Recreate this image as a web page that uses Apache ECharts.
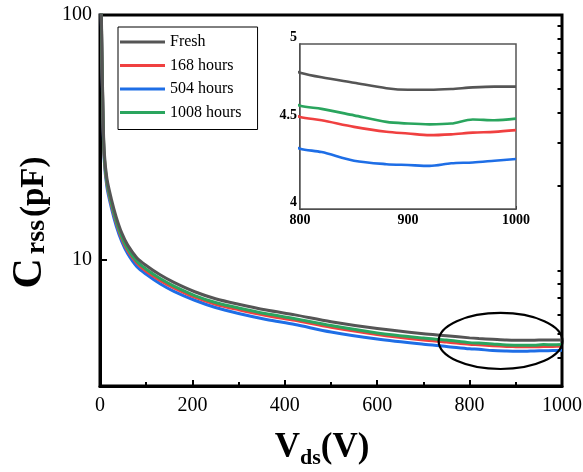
<!DOCTYPE html>
<html>
<head>
<meta charset="utf-8">
<script src="https://cdn.jsdelivr.net/npm/echarts@6/dist/echarts.min.js"></script>
<style>
html,body{margin:0;padding:0;background:#fff}
#c{width:583px;height:472px}
</style>
</head>
<body>
<div id="c"></div>
<script>
// Drain-source voltage (V)
const voltage = [1, 3, 6, 9, 15, 25, 35, 47, 60, 80, 100, 130, 160, 205, 250, 300, 360, 422, 500, 600, 700, 750,
  800, 820, 850, 880, 900, 920, 940, 960, 980, 1000];
// Reverse transfer capacitance Crss (pF) after each stress duration
const fresh = [200, 100, 45, 28, 21.5, 17.6, 15, 12.9, 11.5, 10.2, 9.5, 8.7, 8.1, 7.42, 6.95, 6.6, 6.25, 5.97, 5.6, 5.25, 5.0, 4.91,
  4.81, 4.78, 4.745, 4.71, 4.70, 4.70, 4.705, 4.715, 4.72, 4.72];
const h168 = [190, 95, 42.7, 26.6, 20.4, 16.7, 14.25, 12.25, 10.9, 9.7, 9.0, 8.26, 7.7, 7.05, 6.6, 6.27, 5.94, 5.67, 5.32, 4.97, 4.72, 4.63,
  4.53, 4.51, 4.47, 4.44, 4.43, 4.42, 4.425, 4.435, 4.44, 4.45];
const h504 = [184, 92, 41.4, 25.8, 19.8, 16.2, 13.8, 11.9, 10.6, 9.38, 8.74, 8.0, 7.45, 6.85, 6.4, 6.05, 5.72, 5.45, 5.08, 4.76, 4.53, 4.44,
  4.34, 4.32, 4.27, 4.25, 4.245, 4.24, 4.255, 4.26, 4.27, 4.28];
const h1008 = [193, 96.5, 43.4, 27, 20.7, 17.0, 14.5, 12.45, 11.1, 9.85, 9.17, 8.4, 7.82, 7.16, 6.71, 6.37, 6.03, 5.76, 5.40, 5.04, 4.80, 4.71,
  4.60, 4.58, 4.54, 4.50, 4.49, 4.485, 4.49, 4.515, 4.51, 4.52];

const seriesNames = ['Fresh', '168 hours', '504 hours', '1008 hours'];
const seriesColors = ['#555555', '#f04040', '#1e6ee6', '#2aa55e'];
const seriesData = [fresh, h168, h504, h1008];

// Tick positions
const mainYLabels = [10, 100];
const mainYMinor = [4, 5, 6, 7, 8, 9, 20, 30, 40, 50, 60, 70, 80, 90];
const insetYLabels = [4, 4.5, 5];
const insetYMinor = [4.1, 4.2, 4.3, 4.4, 4.6, 4.7, 4.8, 4.9];

// Highlight ellipse around the high-voltage region (data units)
const ellipseV = [733, 1001];
const ellipseC = [3.59, 6.08];

const serif = 'Liberation Serif, Times New Roman, serif';

function pairs(arr) {
  return voltage.map((v, i) => [v, arr[i]]);
}
const plainNumber = v => String(v);

const drawOrder = [2, 1, 3, 0];
const series = [];
[0, 1].forEach(g => {
  drawOrder.forEach(k => {
    series.push({
      name: seriesNames[k],
      type: 'line',
      xAxisIndex: g,
      yAxisIndex: g === 0 ? 0 : 2,
      data: pairs(seriesData[k]),
      symbol: 'none',
      smooth: 0.3,
      clip: true,
      lineStyle: { color: seriesColors[k], width: g === 0 ? 3 : 2.6 },
      itemStyle: { color: seriesColors[k] },
      z: g === 0 ? 2 : 12
    });
  });
});

const chart = echarts.init(document.getElementById('c'), null, { renderer: 'canvas' });

chart.setOption({
  animation: false,
  backgroundColor: '#fff',
  legend: {
    data: seriesNames,
    orient: 'vertical',
    left: 118,
    top: 27,
    icon: 'rect',
    itemWidth: 45,
    itemHeight: 3,
    itemGap: 7.5,
    padding: [7, 16, 9, 2],
    borderColor: '#000',
    borderWidth: 1,
    backgroundColor: '#fff',
    textStyle: { fontFamily: serif, fontSize: 16, color: '#000' },
    z: 20
  },
  grid: [
    { left: 100, top: 15, width: 462, height: 371, show: true, borderColor: '#000', borderWidth: 3,
      containLabel: false, outerBoundsMode: 'none' },
    { left: 300, top: 44, width: 216, height: 165, show: true, borderColor: '#555', borderWidth: 1.5,
      backgroundColor: '#fff', z: 10, containLabel: false, outerBoundsMode: 'none' }
  ],
  xAxis: [
    {
      gridIndex: 0, type: 'value', min: 0, max: 1000, interval: 200,
      axisLine: { lineStyle: { color: '#000', width: 3 } },
      axisTick: { inside: true, length: 6, lineStyle: { width: 2, color: '#000' } },
      minorTick: { show: true, splitNumber: 2, length: 4, lineStyle: { width: 2, color: '#000' } },
      splitLine: { show: false },
      axisLabel: { fontFamily: serif, fontSize: 20, color: '#000', margin: 10, formatter: plainNumber },
      name: '{b|V}{s|ds}{b|(V)}',
      nameLocation: 'middle',
      nameGap: 44,
      nameTextStyle: {
        padding: [0, 18, 0, 0],
        rich: {
          b: { fontFamily: serif, fontSize: 35, fontWeight: 'bold', color: '#000', lineHeight: 38, verticalAlign: 'top' },
          s: { fontFamily: serif, fontSize: 22, fontWeight: 'bold', color: '#000', lineHeight: 20, padding: [26, 0, 0, 0], verticalAlign: 'bottom' }
        }
      }
    },
    {
      gridIndex: 1, type: 'value', min: 800, max: 1000, interval: 100,
      axisLine: { lineStyle: { color: '#000', width: 1.5 } },
      axisTick: { inside: true, length: 3, lineStyle: { width: 1, color: '#000' } },
      minorTick: { show: true, splitNumber: 2, length: 2, lineStyle: { width: 1, color: '#000' } },
      splitLine: { show: false },
      axisLabel: { fontFamily: serif, fontSize: 14, fontWeight: 'bold', color: '#000', margin: 4, formatter: plainNumber }
    }
  ],
  yAxis: [
    {
      gridIndex: 0, type: 'log', logBase: 10, min: 3.06, max: 100,
      axisLine: { lineStyle: { color: '#000', width: 3 } },
      axisTick: { inside: true, length: 7, customValues: mainYLabels, lineStyle: { width: 2, color: '#000' } },
      splitLine: { show: false },
      minorTick: { show: false },
      axisLabel: { customValues: mainYLabels, fontFamily: serif, fontSize: 20, color: '#000', margin: 8 },
      name: '{c|C}{s|rss}{b|(pF)}',
      nameLocation: 'middle',
      nameGap: 48,
      nameTextStyle: {
        padding: [0, 44, 0, 0],
        rich: {
          c: { fontFamily: serif, fontSize: 42, fontWeight: 'bold', color: '#000', lineHeight: 44, verticalAlign: 'bottom', padding: [0, 4, 0, 0] },
          s: { fontFamily: serif, fontSize: 28, fontWeight: 'bold', color: '#000', lineHeight: 30, verticalAlign: 'bottom', padding: [0, 3, 0, 0] },
          b: { fontFamily: serif, fontSize: 33, fontWeight: 'bold', color: '#000', lineHeight: 36, verticalAlign: 'bottom' }
        }
      }
    },
    {
      gridIndex: 0, type: 'log', logBase: 10, min: 3.06, max: 100,
      axisLine: { show: false },
      axisTick: { inside: true, length: 4.5, customValues: mainYMinor, lineStyle: { width: 2, color: '#000' } },
      splitLine: { show: false },
      axisLabel: { show: false }
    },
    {
      gridIndex: 1, type: 'log', logBase: 10, min: 4, max: 5,
      axisLine: { lineStyle: { color: '#000', width: 1.5 } },
      axisTick: { inside: true, length: 3, customValues: insetYLabels, lineStyle: { width: 1, color: '#000' } },
      splitLine: { show: false },
      axisLabel: { customValues: insetYLabels, fontFamily: serif, fontSize: 14, fontWeight: 'bold', color: '#000', margin: 3, verticalAlign: 'bottom' }
    },
    {
      gridIndex: 1, type: 'log', logBase: 10, min: 4, max: 5,
      axisLine: { show: false },
      axisTick: { inside: true, length: 2, customValues: insetYMinor, lineStyle: { width: 1, color: '#000' } },
      splitLine: { show: false },
      axisLabel: { show: false }
    }
  ],
  series: series
});

// Ellipse marking the high-voltage region enlarged in the inset
const pA = chart.convertToPixel({ gridIndex: 0 }, [ellipseV[0], ellipseC[1]]);
const pB = chart.convertToPixel({ gridIndex: 0 }, [ellipseV[1], ellipseC[0]]);
chart.setOption({
  graphic: [{
    type: 'ellipse',
    shape: { cx: (pA[0] + pB[0]) / 2, cy: (pA[1] + pB[1]) / 2, rx: Math.abs(pB[0] - pA[0]) / 2, ry: Math.abs(pB[1] - pA[1]) / 2 },
    style: { fill: 'none', stroke: '#000', lineWidth: 2.2 },
    z: 30
  }]
});
</script>
</body>
</html>
